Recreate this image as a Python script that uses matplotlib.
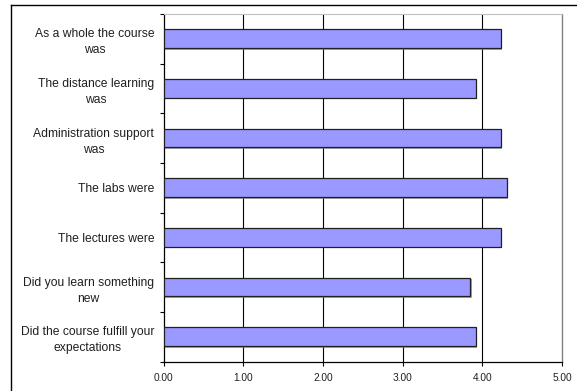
import numpy as np
import matplotlib.pyplot as plt
import matplotlib.patheffects as pe

plt.rcParams['font.family'] = ['Liberation Sans', 'DejaVu Sans']

# survey questions, listed top to bottom
questions = [
    'As a whole the course\nwas',
    'The distance learning\nwas',
    'Administration support\nwas',
    'The labs were',
    'The lectures were',
    'Did you learn something\nnew',
    'Did the course fulfill your\nexpectations',
]
scores = [4.23, 3.92, 4.23, 4.31, 4.23, 3.85, 3.92]
x_ticks = [0, 1, 2, 3, 4, 5]

fig = plt.figure(figsize=(5.77, 3.91), dpi=100)
ax = fig.add_axes([0.284, 0.0754, 0.69, 0.889])

n = len(questions)
pos = np.arange(n)[::-1]
bars = ax.barh(pos, scores, height=0.38, color='#9999FF', edgecolor='#202020',
               linewidth=0.9, zorder=3)
for b in bars:
    b.set_path_effects([pe.SimplePatchShadow(offset=(1, -1), shadow_rgbFace='#808080', alpha=0.7),
                        pe.Normal()])

ax.set_xlim(0, 5)
ax.set_ylim(-0.5, n - 0.5)
ax.set_xticks(x_ticks)
ax.set_xticklabels([f'{v:.2f}' for v in x_ticks], fontsize=7.3, color='#202020')
for v in x_ticks[1:-1]:
    ax.axvline(v, color='black', linewidth=0.8, zorder=1)

# labels on the categories, tick marks on the boundaries between them
ax.set_yticks(pos)
ax.set_yticklabels(questions, fontsize=8.7, color='#202020')
for lbl in ax.get_yticklabels():
    lbl.set_multialignment('center')
    lbl.set_linespacing(1.45)
ax.tick_params(axis='y', which='major', length=0, pad=7)
ax.set_yticks(np.arange(-0.5, n, 1), minor=True)
ax.tick_params(axis='y', which='minor', length=3, width=0.8, direction='out')
ax.tick_params(axis='x', length=3, width=0.8, direction='out', pad=5)

for s in ['left', 'bottom']:
    ax.spines[s].set_color('black')
    ax.spines[s].set_linewidth(0.9)
ax.spines['right'].set_color('#808080')
ax.spines['right'].set_linewidth(1.0)
ax.spines['top'].set_color('#c0c0c0')
ax.spines['top'].set_linewidth(0.8)

# chart frame (left and top edges)
fig.add_artist(plt.Line2D([11.5 / 577, 11.5 / 577], [0, 1 - 4.5 / 391], color='black', linewidth=1.0))
fig.add_artist(plt.Line2D([11.5 / 577, 1], [1 - 4.5 / 391, 1 - 4.5 / 391], color='black', linewidth=1.0))

fig.savefig('out.png', dpi=100)
